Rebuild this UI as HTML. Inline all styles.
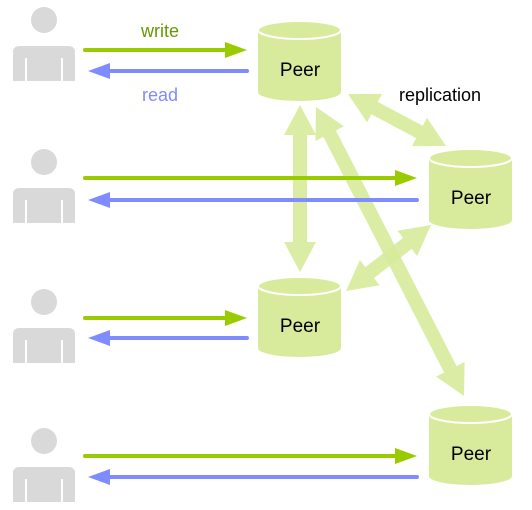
<!DOCTYPE html>
<html><head><meta charset="utf-8"><style>
html,body{margin:0;padding:0;background:#fff;}
svg{display:block;}
text{font-family:"Liberation Sans",Arial,sans-serif;}
</style></head><body>
<svg id="s" width="532" height="510" viewBox="0 0 532 510" xmlns="http://www.w3.org/2000/svg">
<defs>
<g id="person" fill="#d9d9d9">
<circle cx="44" cy="20" r="13"/>
<path d="M13,81 L13,52 Q13,46 20,46 L68,46 Q75,46 75,52 L75,81 L63,81 L63,58 L61,58 L61,81 L27,81 L27,58 L25,58 L25,81 Z"/>
</g>
<g id="cyl">
<path d="M0,10 L0,72 A41.5,9 0 0 0 83,72 L83,10 Z" fill="#d8ea9c"/>
<ellipse cx="41.5" cy="10" rx="41.5" ry="9" fill="#d8ea9c" stroke="#fff" stroke-width="2"/>
</g>
</defs>
<use href="#person" x="0" y="0"/>
<use href="#person" x="0" y="142"/>
<use href="#person" x="0" y="282"/>
<use href="#person" x="0" y="421"/>
<g id="big"></g>
<use href="#cyl" x="258" y="20"/>
<use href="#cyl" x="429" y="148"/>
<use href="#cyl" x="258" y="276"/>
<use href="#cyl" x="429" y="404"/>
<g font-size="19" fill="#000" text-anchor="middle">
<text x="300" y="76">Peer</text>
<text x="471" y="204">Peer</text>
<text x="300" y="332">Peer</text>
<text x="471" y="460">Peer</text>
</g>
<text x="440" y="101" font-size="18" text-anchor="middle" fill="#000">replication</text>
<text x="160" y="37" font-size="18" text-anchor="middle" fill="#669900">write</text>
<text x="160" y="101" font-size="18" text-anchor="middle" fill="#7f8cff">read</text>
<g id="thin"></g>
</svg>
<script>
var ns="http://www.w3.org/2000/svg";
function arrow(g,x1,x2,y,color,dir){
 var l=document.createElementNS(ns,"line");
 var hx = dir>0 ? x2 : x1;
 var sx = dir>0 ? x1 : x2;
 l.setAttribute("x1",sx);l.setAttribute("x2",hx-dir*18);
 l.setAttribute("y1",y);l.setAttribute("y2",y);
 l.setAttribute("stroke",color);l.setAttribute("stroke-width","4");l.setAttribute("stroke-linecap","round");
 g.appendChild(l);
 var p=document.createElementNS(ns,"polygon");
 p.setAttribute("points",hx+","+y+" "+(hx-dir*22)+","+(y-8)+" "+(hx-dir*22)+","+(y+8));
 p.setAttribute("fill",color);g.appendChild(p);
}
var t=document.getElementById("thin");
var G="#99cc00",B="#7f8cff";
arrow(t,85,247,50,G,1);arrow(t,88,247,71,B,-1);
arrow(t,85,417,178,G,1);arrow(t,88,417,200,B,-1);
arrow(t,85,247,318,G,1);arrow(t,88,247,338,B,-1);
arrow(t,85,417,456,G,1);arrow(t,88,417,477,B,-1);
function dbl(g,x1,y1,x2,y2){
 var dx=x2-x1,dy=y2-y1,L=Math.hypot(dx,dy),ux=dx/L,uy=dy/L,nx=-uy,ny=ux;
 var w=7,hw=16,hl=30;
 function P(a,b){return (x1+ux*a+nx*b).toFixed(1)+","+(y1+uy*a+ny*b).toFixed(1);}
 var pts=[P(0,0),P(hl,hw),P(hl,w),P(L-hl,w),P(L-hl,hw),P(L,0),P(L-hl,-hw),P(L-hl,-w),P(hl,-w),P(hl,-hw)];
 var p=document.createElementNS(ns,"polygon");
 p.setAttribute("points",pts.join(" "));p.setAttribute("fill","#d8ea9c");p.setAttribute("fill-opacity","0.92");g.appendChild(p);
}
var b=document.getElementById("big");
dbl(b,300,105,300,272);
dbl(b,348,94,446,146);
dbl(b,346,291,431,225);
dbl(b,316,107,464,396);
</script>
</body></html>
